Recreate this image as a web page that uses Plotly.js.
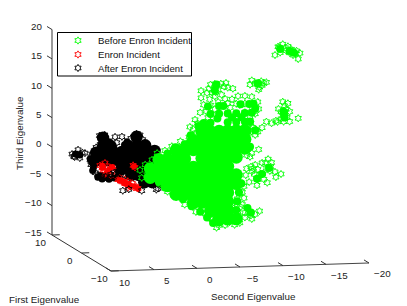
<!DOCTYPE html>
<html><head><meta charset="utf-8"><script src="https://cdn.plot.ly/plotly-3.0.1.min.js"></script>
<style>html,body{margin:0;padding:0;background:#fff}#c{width:407px;height:306px}</style></head><body><div id="c"></div>
<script>
// Values (Second, Third eigenvalue, on the mid plane First = 0)
const seriesNames=['Before Enron Incident','Enron Incident','After Enron Incident'];
const firstTicks=[10,0,-10], secondTicks=[10,5,0,-5,-10,-15,-20], thirdTicks=[20,15,10,5,0,-5,-10,-15];
const firstPlane=0;
const beforeRowsThird=[5,3.5,2,0.5,-1,-2.5,-4,-5.5,-7,-8.5,-10];
const beforeRowsSecond=[[-4,-5,-6,-7,-8,-9],[-3,-4,-5,-6,-7,-8,-9],[-1,-2,-3,-4,-5,-6,-7,-8,-9],[1,0,-1,-2,-4,-5,-6,-7,-8],[2,1,0,-1,-2,-3,-4,-5,-6,-7],[2,1,0,-1,-2,-3,-4,-5,-6,-7,-8],[0,-1,-2,-3,-4,-5,-6,-7,-8],[-1,-2,-3,-4,-5,-6,-7],[-3,-4,-5,-6,-7],[-5,-6,-7],[-6,-7,-8]];
const beforeDenseSecond=[-5,-6,-7,-8,-9,-9.8,-4.2,-5,-7,-8,-9,-9.6,-8.5,-9.5,-10,-6,-10.2,-10.5,-14.2,-14.7,-13.5,-13.6,-10.2,-9.6,-11,-11.8,-10.4,-9.7,-9.3,-5.7,-5.5,-7,-6,-8,-13.1,1,0.3,-0.7,-1.8,-2.8,-3.8,-4.6,-5.3,-8.6,-8.3,-8.1,-8,0,-0.9,-2,-2.7,-4.7,-5.8,-7.5,-8.6,-3.6,-4.6,-6.5];
const beforeDenseThird=[8,8,8,8,8,8,6.5,6.5,6.5,6.5,6.5,6.5,9.5,9.5,9.5,9.3,8.7,13,18.3,18,8,7,5,2.2,-2.5,-1.5,-3.3,-9,-8.2,13,12,-10.3,-10.5,-10.3,18.7,-3.3,-4.3,-5.5,-6.4,-7.6,-8.6,-9.6,-10.6,-4,-5.5,-7,-8.5,1.5,2.5,3,4.5,9.3,7.2,7.3,7.3,6,5.8,9.3];
const beforeSecond=[-12.5,-12.85,-13.4,-14,-14.5,-14.9,-15.4,-15.2,-14.4,-13.8,-13.1,-13,-13.7,-14.2,-14.6,-15,
-9.6,-9.8,-10.5,-11,-10.9,-11.5,-10.6,-10.2,-10.7,-11.2,
-5,-5.5,-6.2,-6.8,-7.6,-5.9,-5.2,-6.3,-4.6,-7,-5.6,-6.6,-5.6,-4.8,
-13.4,-14,-12.9,-13.8,-14.2,-13.4,-13.9,-12.8,-14.2,-15.2,-12.6,-12.1,-13.5,-13.2,-13.6,-13.6,-13.2,-13.7,
-3.9,-3.9,-3.8,-2.6,-3.4,-3.2,-4.2,-4.9,-5.9,-6.7,-7.5,-8.2,-9,-9.8,-10.5,-10.6,-10.2,-9.6,-9,-8.4,-7.3,-5.5,-4.7,-9.8,
-5,-6,-7,-8,-9,-10,-5.5,-4.5,-3.5,-3,-2.5,-1.5,-10,-9.7,-9.9,-9.4,
-11.5,-11,-10.3,-9.8,-10.5,-10.2,-9.5,-10.6,-9.2,-9,-9.8,-9.6,-9.2,
1.2,0.3,-0.5,-1.4,-2.3,1.8,2.6,3.2,2.4,3,
-9.1,-9.8,-10.5,-10.2,-11,-11.7,-12.1,-11.4,-13.2,-12.6,-11.6,-10.4,-9.5,-10.1,-11,-11.9,-11.2,-12,-10,-10.8,-11.5,-10.5,-12.5,-9.7,-9.2,
-8.7,-9.4,-10.2,-10.7,-9,-9.8,-8.2,-8.5,-9,-9.7,-8.7,-8.9,-7.8,-8,-5,-6,-7.2,
-8.4,-8.9,-7.5,-8.1,-8.4,
-5.7,-6.7,-7.8,-8.4,-6.3,-5.2,-4.4,-3.3,-2,-1,0,0.9];
const beforeThird=[17.7,19.1,19.5,19.1,18.3,17.8,17.9,16.9,18.6,18.4,18.1,19,18.9,18,17.6,18.3,
12.8,13.5,12.8,12.6,13.3,13.1,11.9,13,12.3,13,
13,13.1,13.1,13.2,12.2,12.1,11.6,11.2,11.6,12.4,12.6,12.6,11.7,12.3,
9.7,9.4,8.5,8.4,8,7.3,7,6.3,6.3,6.8,6.5,6.1,6.3,8,7.6,9,6.8,7.9,
12,10.8,8.3,5.9,4.9,7.1,9.6,10.5,10,10.5,10.4,10.9,10.9,10.7,9.8,8.6,7.8,7.3,8.1,9.4,9,8.8,7.4,8.7,
9.5,9.2,9.7,9.6,9.6,9.4,11,8.5,6.5,5.5,4.2,3.5,8.2,6.2,5.5,4.5,
6.4,5.4,5.1,4.8,4.7,4.2,2.2,1.7,3.4,1.8,1.1,0.5,0.8,
1.6,2,2.7,2.5,3.2,0.5,-0.3,-1.2,-2,-2.5,
-2.6,-2,-1.7,-0.9,-0.6,0,-0.6,-0.6,-2.6,-3.1,-4,-4.4,-3.8,-2.5,-2.5,-2,-3.4,-1.3,-1.5,-2.5,-1.5,-3.4,-2.2,-1.2,-1.5,
-7.6,-8.8,-9.3,-8.8,-9.8,-10.1,-8.8,-8,-9,-9.5,-5.5,-6.5,-8.5,-9.7,-9.8,-11,-10.5,
-5.7,-4.5,-7.4,-6.6,-3.7,
-11.4,-11,-11,-10.7,-10,-10,-9,-8.6,-7.3,-6,-5,-3.7];
const enronSecond=[7.85,7.27,6.69,6.34,7.5,6.92,6.46,7.27,5.76,5.3,5.53,4.83,4.36,3.9,3.43,4.6,4.95,3.78,4,7.6,7,6.6,5.1,4.6,4.1,3.7];
const enronThird=[-0.2,0.2,-0.7,-1,-1,-1.4,-1.4,-1.7,-2.7,-3.1,-2.4,-3.4,-3.75,-4.1,-4.3,-4.1,-2.7,-0.7,-0.35,-0.6,-0.3,-1.9,-3,-3.1,-3.4,-3.9];
const enronDenseSecond=[7.5,6.8,5.2,4.5,3.8,7.6,7.1,6.4,5.6,5,4.4,3.4,3.9];
const enronDenseThird=[-0.6,-1,-3,-3.5,-4,-0.2,-1.6,-0.5,-2.8,-3.4,-3.9,-4.4,-0.5];
const afterRowsThird=[4.5,3,2,0.5,-1,-2,-3.3];
const afterRowsSecond=[[7.5,3.6],[7.5,6.6,4.6,3.5,2.6],[8.3,7.3,6.3,5.3,4.3,3.3,2.3,1.5],[8.5,7.5,6.5,5.5,4.5,3.5,2.5,1.5],[5.4,4.5,2.8,1.8,0.9],[4.2,3.4,2.6,1.7,0.8],[2.7,1.8,0.8]];
const afterDenseSecond=[8.6,9,6.7,4.7,2,1.2,0.3,0,7.8,7,6.2,5.7,10.5,10.2,10.7,5.7,8.1,7.6,6.8,8.7,5,3.7];
const afterDenseThird=[-0.5,1,3.7,3.7,1.5,-0.2,-2,-3.3,-1.9,-2.3,-2.4,-2,1.8,1.7,1.9,-1.2,-2.2,-2.5,-2.6,-1,3.2,-1];
const afterSecond=[11.1,10.4,9.6,10.2,10.8,10.5,10.9,9.9,6.1,5.3,4.25,5.9,7.9,7.3,3.6,3.2,2.9,8.8,8.3,7.8,7,8.4,7.6,6.6,6.2,5.6,5.2,4.9,4.5,3,1.3,0.3,0.5,1.1,0.9,8.1,7.8,7.2,6.7,6.1,5.7,9,8.9];
const afterThird=[1.9,2.6,2,1.2,1.4,1.8,1.5,2.1,4.6,4.6,4.25,3.6,4.9,5,5,4.8,4,1.8,2.9,3.4,4,-1.4,-2,-1.8,-1.5,-1.5,-4.6,-2,-4.4,-4.7,-4.6,-3.5,-1.5,-4.4,0.8,-1.8,-2.3,-2.1,-2.3,-1.8,-1.3,0.8,0];

function px(f,s,t){return 111+(10-s)*8.6-(f+10)*2.95;}
function py(f,s,t){return 271-(10-s)*0.267-(f+10)*1.8-(t+15)*5.87;}
function flat(rowsT,rowsS){const S=[],T=[];rowsT.forEach((t,i)=>rowsS[i].forEach(s=>{S.push(s);T.push(t);}));return {S,T};}
function pts(S,T,extra){return Object.assign({type:'scatter',mode:'markers',showlegend:false,
 x:S.map((s,i)=>px(firstPlane,s,T[i])),y:S.map((s,i)=>py(firstPlane,s,T[i])),hoverinfo:'skip'},extra);}
function seg(a,b,color,w){return {type:'scatter',mode:'lines',x:[px(...a),px(...b)],y:[py(...a),py(...b)],line:{color:color,width:w},showlegend:false,hoverinfo:'skip'};}
const GREEN='#00ff00',RED='#ff0000',BLACK='#000000';
const star=c=>({symbol:'hexagram-open',size:5.5,color:c,line:{color:c,width:0.9}});
const dot=(c,size)=>({symbol:'circle',size:size,color:c,line:{width:0}});
const bCore=flat(beforeRowsThird,beforeRowsSecond), aCore=flat(afterRowsThird,afterRowsSecond);
const data=[];
data.push(seg([10,10,-15],[10,10,20],'#9a9a9a',2));
data.push(seg([10,10,-15],[-10,10,-15],'#333',1));
data.push(seg([-10,10,-15],[-10,-20,-15],'#444',1));
const T='#333';
thirdTicks.forEach(t=>data.push(seg([10,10,t],[11.7,10,t],T,1)));
firstTicks.forEach(f=>data.push(seg([f,10,-15],[f,9.1,-15],T,1)));
secondTicks.forEach(s=>data.push(seg([-10,s,-15],[-8.3,s,-15],T,1)));
data.push(pts(aCore.S,aCore.T,{marker:dot(BLACK,12.5)}));
data.push(pts(afterDenseSecond,afterDenseThird,{marker:dot(BLACK,7)}));
data.push(pts(enronDenseSecond,enronDenseThird,{marker:dot(RED,6)}));
data.push(pts(enronSecond,enronThird,{marker:star(RED)}));
data.push(pts(afterSecond,afterThird,{marker:star(BLACK)}));
data.push(pts(bCore.S,bCore.T,{marker:dot(GREEN,13)}));
data.push(pts(beforeDenseSecond,beforeDenseThird,{marker:dot(GREEN,8)}));
data.push(pts(beforeSecond,beforeThird,{marker:star(GREEN)}));
const F={family:'Liberation Sans, Arial, sans-serif',size:9.8,color:'#222'};
const ann=[];
function lab(x,y,text,extra){ann.push(Object.assign({xref:'x',yref:'y',x:x,y:y,text:text,showarrow:false,font:F,xanchor:'center',yanchor:'middle'},extra||{}));}
const m=v=>String(v).replace('-','\u2212');
thirdTicks.forEach(t=>lab(px(10,10,t)-8,py(10,10,t)-3,m(t),{xanchor:'right'}));
firstTicks.forEach((f,i)=>lab(px(f,10,-15)-12,py(f,10,-15)+7,m(f)));
secondTicks.forEach(s=>lab(px(-10,s,-15)+13,py(-10,s,-15)+11,m(s)));
lab(19,133,'Third Eigenvalue',{textangle:-90});
lab(44,299,'First Eigenvalue');
lab(253,296,'Second Eigenvalue');
// legend box
const legendRows=[40.5,54.5,68], legendColors=[GREEN,RED,BLACK];
seriesNames.forEach((n,i)=>{
 lab(96,legendRows[i],n,{xanchor:'left',font:Object.assign({},F,{size:9.6,color:'#111'})});
 data.push({type:'scatter',mode:'markers',x:[78],y:[legendRows[i]],marker:star(legendColors[i]),showlegend:false,hoverinfo:'skip'});
});
Plotly.newPlot('c',data,{width:407,height:306,margin:{l:0,r:0,t:0,b:0},paper_bgcolor:'#fff',plot_bgcolor:'#fff',showlegend:false,
 xaxis:{range:[0,407],visible:false,fixedrange:true},yaxis:{range:[306,0],visible:false,fixedrange:true},
 annotations:ann,font:F,
 shapes:[{type:'rect',xref:'x',yref:'y',x0:57.5,x1:191.5,y0:32.5,y1:76,line:{color:'#000',width:1},fillcolor:'#fff',layer:'below'}]
},{displayModeBar:false,staticPlot:true});
</script></body></html>
